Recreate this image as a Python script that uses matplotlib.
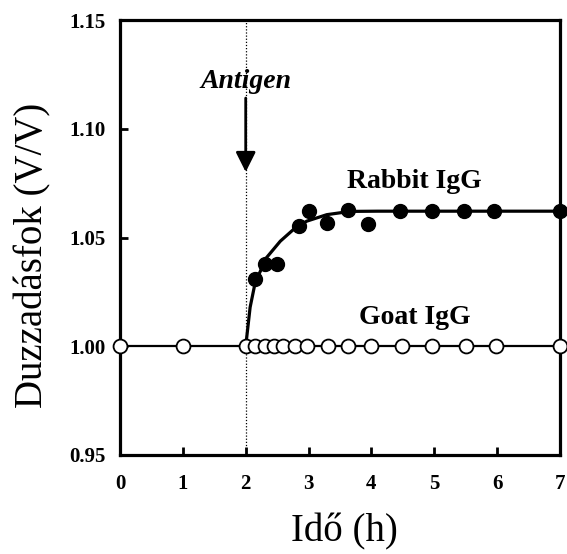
import matplotlib
matplotlib.use('Agg')
from matplotlib import pyplot as plt

# Goat IgG (kontroll) - üres körök
goat_t = [0, 1, 2, 2.15, 2.3, 2.45, 2.6, 2.78, 2.97, 3.31, 3.63, 3.99, 4.49, 4.96, 5.5, 5.98, 7]
goat_v = [1.0] * len(goat_t)

# Rabbit IgG - teli körök
rabbit_t = [2.15, 2.31, 2.49, 2.84, 3.0, 3.3, 3.63, 3.95, 4.45, 4.96, 5.47, 5.95, 7.0]
rabbit_v = [1.0307, 1.0376, 1.0376, 1.0552, 1.0621, 1.0567, 1.0625, 1.056,
            1.0621, 1.0621, 1.0621, 1.0621, 1.0621]

# illesztett görbe (képről leolvasva)
fit_t = [2.0, 2.07, 2.15, 2.33, 2.55, 2.76, 2.97, 3.29, 3.66, 4.1, 7.0]
fit_v = [1.0, 1.0179, 1.0292, 1.0407, 1.0483, 1.0537, 1.0575, 1.0605, 1.062, 1.0621, 1.0621]

x_ticks = [0, 1, 2, 3, 4, 5, 6, 7]
y_ticks = [0.95, 1.00, 1.05, 1.10, 1.15]
antigen_t = 2

plt.rcParams['font.family'] = ['Liberation Serif', 'DejaVu Serif']

fig = plt.figure(figsize=(5.67, 5.54), dpi=100)
ax = fig.add_axes([120 / 567, 1 - 455 / 554, 440 / 567, 435 / 554])

ax.axvline(antigen_t, color='black', linestyle=(0, (1, 1.5)), linewidth=0.9, zorder=1)

ax.plot(fit_t, fit_v, color='black', linewidth=2.3, zorder=2)
ax.plot(goat_t, goat_v, color='black', linewidth=1.6, marker='o', markersize=10,
        markerfacecolor='white', markeredgecolor='black', markeredgewidth=1.3,
        clip_on=False, zorder=3)
ax.plot(rabbit_t, rabbit_v, linestyle='none', marker='o', markersize=10,
        color='black', clip_on=False, zorder=4)

ax.set_xlim(0, 7)
ax.set_ylim(0.95, 1.15)
ax.set_xticks(x_ticks)
ax.set_yticks(y_ticks)
ax.set_xticklabels([str(i) for i in x_ticks], fontweight='bold', fontsize=15)
ax.set_yticklabels(['{:.2f}'.format(v) for v in y_ticks], fontweight='bold', fontsize=15)
ax.tick_params(direction='in', length=6, width=2)
ax.tick_params(axis='y', pad=10)
ax.tick_params(axis='x', pad=14)
for sp in ax.spines.values():
    sp.set_linewidth(2.3)

ax.set_xlabel('Idő (h)', fontsize=28)
ax.xaxis.set_label_coords(0.51, -0.135)
ax.set_ylabel('Duzzadásfok (V/V)', fontsize=28)
ax.yaxis.set_label_coords(-0.155, 0.46)

# antigén jelölés
ax.annotate('', xy=(antigen_t, 1.0801), xytext=(antigen_t, 1.1141),
            arrowprops=dict(arrowstyle='-|>,head_length=1.2,head_width=0.6',
                            color='black', linewidth=2, shrinkA=0, shrinkB=0))
ax.text(antigen_t, 1.1215, 'Antigen', fontsize=20, fontweight='bold', fontstyle='italic',
        ha='center', va='center')

ax.text(4.69, 1.0757, 'Rabbit IgG', fontsize=20, fontweight='bold', ha='center', va='center')
ax.text(4.69, 1.0133, 'Goat IgG', fontsize=20, fontweight='bold', ha='center', va='center')

# levágott felirat a kép tetején
fig.text(323 / 567, 1.014, '(V/V)', fontsize=24, ha='center', va='baseline')

plt.savefig('out.png', dpi=100)
